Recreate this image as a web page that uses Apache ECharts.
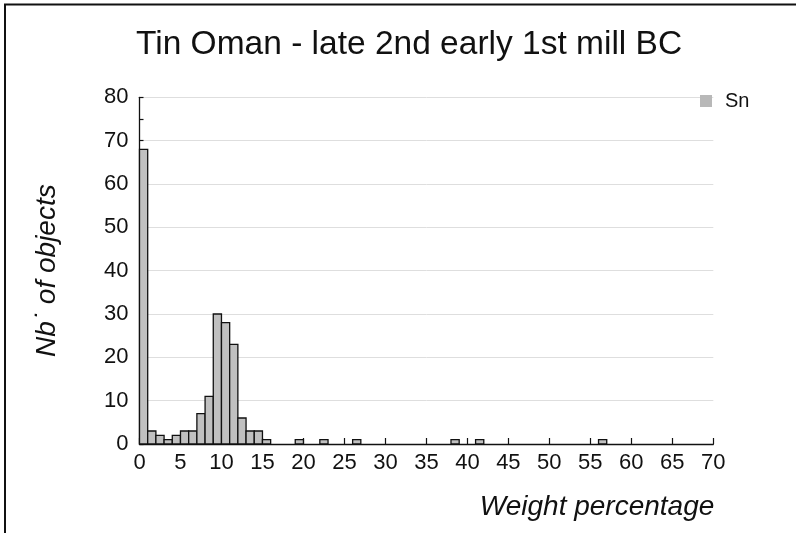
<!DOCTYPE html>
<html>
<head>
<meta charset="utf-8">
<script src="https://cdn.jsdelivr.net/npm/echarts@6/dist/echarts.min.js"></script>
<style>
  html, body { margin: 0; padding: 0; background: #ffffff; }
  #chart { width: 796px; height: 533px; }
</style>
</head>
<body>
<div id="chart"></div>
<script>
// Tin content histogram: lower edge of each 1 % bin and the number of objects in it
const binStart = [0, 1, 2, 3, 4, 5, 6, 7, 8, 9, 10, 11, 12, 13, 14, 15, 19, 22, 26, 38, 41, 56];
const binCount = [68, 3, 2, 1, 2, 3, 3, 7, 11, 30, 28, 23, 6, 3, 3, 1, 1, 1, 1, 1, 1, 1];
const binWidth = 1;
const seriesName = 'Sn';
const xTicks = [0, 5, 10, 15, 20, 25, 30, 35, 40, 45, 50, 55, 60, 65, 70];
const yTicks = [0, 10, 20, 30, 40, 50, 60, 70, 80];

const FONT = '"Liberation Sans", Arial, Helvetica, sans-serif';
const chart = echarts.init(document.getElementById('chart'), null, { renderer: 'canvas' });

const histData = binStart.map((s, i) => [s, binCount[i], s + binWidth]);

chart.setOption({
  backgroundColor: '#ffffff',
  animation: false,
  title: {
    text: 'Tin Oman - late 2nd early 1st mill BC',
    left: 136,
    top: 28,
    padding: 0,
    textStyle: { fontFamily: FONT, fontSize: 33.5, fontWeight: 'normal', color: '#111' }
  },
  legend: {
    data: [{ name: seriesName, icon: 'rect', itemStyle: { color: '#b8b8b8', borderWidth: 0 } }],
    left: 700,
    top: 91,
    padding: 0,
    itemWidth: 12,
    itemHeight: 12,
    textStyle: { fontFamily: FONT, fontSize: 20, color: '#111', padding: [0, 0, 0, 8] }
  },
  grid: { left: 139.5, right: 82.7, top: 97.3, bottom: 89, containLabel: false },
  xAxis: {
    type: 'value',
    min: xTicks[0],
    max: xTicks[xTicks.length - 1],
    interval: xTicks[1] - xTicks[0],
    name: 'Weight percentage',
    nameLocation: 'end',
    nameGap: 1,
    nameTextStyle: {
      fontFamily: FONT, fontSize: 28, fontStyle: 'italic', color: '#111',
      align: 'right', verticalAlign: 'top', padding: [49, 0, 0, 0]
    },
    axisLine: { show: true, lineStyle: { color: '#111', width: 1.3 } },
    axisTick: { show: true, inside: true, length: 6, lineStyle: { color: '#111', width: 1.2 } },
    axisLabel: { margin: 8, fontFamily: FONT, fontSize: 22, color: '#111' },
    splitLine: { show: false }
  },
  yAxis: {
    type: 'value',
    min: yTicks[0],
    max: yTicks[yTicks.length - 1],
    interval: yTicks[1] - yTicks[0],
    name: 'Nb\u02D9 of objects',
    nameLocation: 'middle',
    nameGap: 78,
    nameTextStyle: { fontFamily: FONT, fontSize: 28, fontStyle: 'italic', color: '#111' },
    axisLine: { show: true, lineStyle: { color: '#111', width: 1.3 } },
    axisTick: { show: true, inside: true, length: 4, lineStyle: { color: '#111', width: 1.2 } },
    minorTick: { show: true, splitNumber: 2, length: 4, lineStyle: { color: '#111', width: 1.2 } },
    axisLabel: { margin: 11, fontFamily: FONT, fontSize: 22, color: '#111' },
    splitLine: { show: true, lineStyle: { color: '#dedede', width: 1 } }
  },
  series: [{
    name: seriesName,
    type: 'custom',
    data: histData,
    encode: { x: [0, 2], y: 1 },
    itemStyle: { color: '#c0c0c0' },
    renderItem: function (params, api) {
      const topLeft = api.coord([api.value(0), api.value(1)]);
      const bottomRight = api.coord([api.value(2), 0]);
      return {
        type: 'rect',
        shape: {
          x: topLeft[0],
          y: topLeft[1],
          width: bottomRight[0] - topLeft[0],
          height: bottomRight[1] - topLeft[1]
        },
        style: { fill: '#c0c0c0', stroke: '#111', lineWidth: 1.3 }
      };
    }
  }],
  graphic: [{
    type: 'polyline',
    silent: true,
    shape: { points: [[5, 533], [5, 4.5], [796, 4.5]] },
    style: { stroke: '#111', lineWidth: 2, fill: null }
  }]
});
</script>
</body>
</html>
